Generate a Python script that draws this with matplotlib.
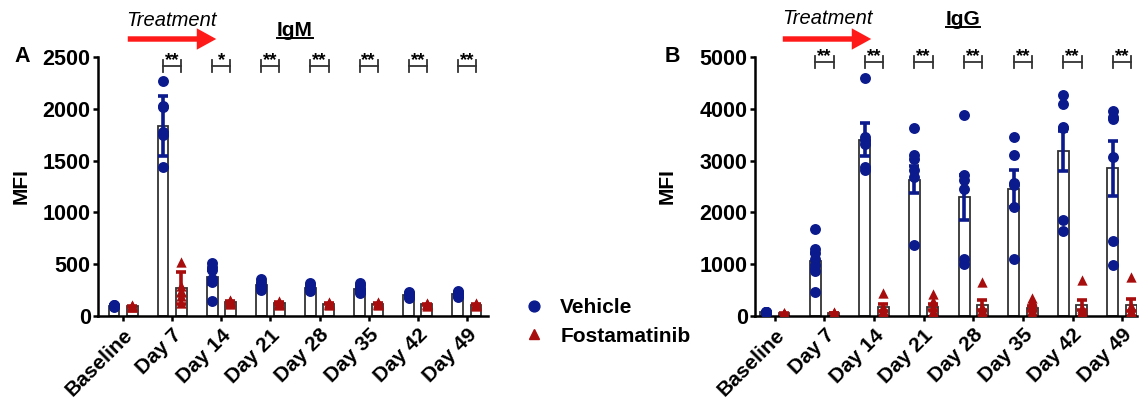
import matplotlib
matplotlib.use("Agg")
import matplotlib.pyplot as plt
from matplotlib.lines import Line2D
from matplotlib.transforms import ScaledTranslation
import numpy as np

plt.rcParams['font.family'] = ['Liberation Sans', 'DejaVu Sans']
plt.rcParams['font.weight'] = 'bold'

days = ["Baseline", "Day 7", "Day 14", "Day 21", "Day 28", "Day 35", "Day 42", "Day 49"]

# IgM (panel A)
igm_veh_mean = [100, 1830, 375, 295, 270, 265, 200, 210]
igm_veh_sem = [5, 290, 65, 18, 15, 15, 10, 10]
igm_veh_pts = [
    [95, 100, 105, 90, 110, 100],
    [2265, 2024, 2018, 1777, 1745, 1440],
    [510, 470, 440, 360, 330, 140],
    [355, 330, 300, 280, 260, 250],
    [315, 300, 270, 255, 250, 240],
    [320, 300, 270, 250, 230, 225],
    [235, 220, 200, 190, 180, 175],
    [240, 230, 215, 200, 190, 185],
]
igm_fos_mean = [95, 270, 135, 125, 120, 120, 115, 110]
igm_fos_sem = [4, 150, 8, 6, 6, 6, 5, 5]
igm_fos_pts = [
    [100, 95, 90, 105, 85, 100],
    [525, 290, 240, 190, 130, 235],
    [150, 140, 135, 130, 120, 145],
    [140, 130, 120, 115, 110, 125],
    [135, 125, 120, 115, 105, 120],
    [135, 125, 120, 115, 105, 120],
    [130, 120, 115, 110, 100, 115],
    [125, 115, 110, 105, 95, 110],
]
igm_stars = ["**", "*", "**", "**", "**", "**", "**"]

# IgG (panel B)
igg_veh_mean = [75, 1060, 3400, 2630, 2290, 2460, 3180, 2850]
igg_veh_sem = [4, 150, 320, 260, 430, 350, 390, 530]
igg_veh_pts = [
    [80, 70, 75, 65, 85, 70],
    [1670, 1300, 1210, 1110, 980, 860, 460],
    [4600, 3460, 3330, 3400, 2880, 2820],
    [3620, 3100, 3040, 2810, 2690, 1370],
    [3875, 2720, 2620, 2460, 1110, 1010],
    [3460, 3100, 2570, 2530, 2110, 1110],
    [4270, 4100, 3650, 3620, 1850, 1650],
    [3950, 3850, 3800, 3070, 1450, 990],
]
igg_fos_mean = [50, 55, 165, 170, 210, 150, 210, 212]
igg_fos_sem = [4, 6, 70, 60, 100, 50, 100, 110]
igg_fos_pts = [
    [60, 50, 45, 55, 40, 50],
    [80, 60, 50, 40, 45, 55],
    [450, 180, 120, 60, 100, 80],
    [420, 280, 180, 90, 60, 80],
    [660, 120, 60, 50, 180, 90],
    [350, 280, 210, 110, 60, 50],
    [700, 120, 80, 60, 150, 70],
    [750, 200, 100, 60, 80, 90],
]
igg_stars = ["**"] * 7

navy = "#0b1a8c"
dred = "#a80d0d"
W, H = 1147, 405


def draw_panel(ax, vm, vs, vp, fm, fs, fp, ymax, ystep, xlim, stars, brk_y, brk_h):
    x = np.arange(len(days))
    off = 0.185
    bw = 0.22
    ax.bar(x - off, vm, width=bw, color="white", edgecolor="#333333", linewidth=1.3, zorder=1)
    ax.bar(x + off, fm, width=bw, color="white", edgecolor="#333333", linewidth=1.3, zorder=1)
    for i in range(len(days)):
        ax.scatter([x[i] - off] * len(vp[i]), vp[i], s=62, color=navy, marker="o", zorder=3, linewidths=0)
        ax.scatter([x[i] + off] * len(fp[i]), fp[i], s=55, color=dred, marker="^", zorder=3, linewidths=0)
    ax.errorbar(x - off, vm, yerr=vs, fmt="none", ecolor=navy, elinewidth=2.6, capsize=3.8, capthick=2.6, zorder=4)
    ax.errorbar(x + off, fm, yerr=fs, fmt="none", ecolor=dred, elinewidth=2.6, capsize=3.8, capthick=2.6, zorder=4)

    # significance brackets
    for i, s in enumerate(stars):
        a, b = x[i + 1] - off, x[i + 1] + off
        ax.plot([a, b], [brk_y, brk_y], color="#333333", lw=1.3, clip_on=False)
        ax.plot([a, a], [brk_y - brk_h, brk_y + brk_h], color="#333333", lw=1.3, clip_on=False)
        ax.plot([b, b], [brk_y - brk_h, brk_y + brk_h], color="#333333", lw=1.3, clip_on=False)
        ax.text((a + b) / 2, brk_y - brk_h * 0.5, s, ha="center", va="bottom", fontsize=13.5, clip_on=False)

    ax.set_xlim(*xlim)
    ax.set_ylim(0, ymax)
    ax.set_yticks(np.arange(0, ymax + 1, ystep))
    ax.set_xticks(x)
    ax.set_xticklabels(days, rotation=45, ha="right", rotation_mode="anchor", fontsize=15)
    shift = ScaledTranslation(-9 / 100, -11 / 100, fig.dpi_scale_trans)
    for lab in ax.get_xticklabels():
        lab.set_transform(lab.get_transform() + shift)
    ax.tick_params(axis="y", labelsize=15.5, width=1.8, length=3.8, pad=1.5, direction="out")
    ax.tick_params(axis="x", width=1.8, length=3.8, direction="out", pad=3)
    for sp in ["top", "right"]:
        ax.spines[sp].set_visible(False)
    for sp in ["left", "bottom"]:
        ax.spines[sp].set_linewidth(1.8)
    ax.set_ylabel("MFI", fontsize=15, fontweight="bold")


fig = plt.figure(figsize=(W / 100, H / 100), dpi=100)
axA = fig.add_axes([98 / W, 1 - 316 / H, 390 / W, 259 / H])
axB = fig.add_axes([755 / W, 1 - 316 / H, 382 / W, 259 / H])

draw_panel(axA, igm_veh_mean, igm_veh_sem, igm_veh_pts, igm_fos_mean, igm_fos_sem, igm_fos_pts,
           2500, 500, (-0.51, 7.43), igm_stars, 2410, 58)
draw_panel(axB, igg_veh_mean, igg_veh_sem, igg_veh_pts, igg_fos_mean, igg_fos_sem, igg_fos_pts,
           5000, 1000, (-0.40, 7.30), igg_stars, 4900, 116)
axA.yaxis.set_label_coords(-0.172, 0.5)
axB.yaxis.set_label_coords(-0.205, 0.5)

# panel letters
fig.text(22 / W, 1 - 57 / H, "A", fontsize=15.5, fontweight="bold", ha="center", va="center")
fig.text(672 / W, 1 - 57 / H, "B", fontsize=15.5, fontweight="bold", ha="center", va="center")

# treatment arrows
for tx, ty, x0, x1 in [(171, 20, 125, 219), (827, 18, 780, 874)]:
    fig.text(tx / W, 1 - ty / H, "Treatment", fontsize=14.5, fontstyle="italic", fontweight="normal",
             ha="center", va="center")
    fig.add_artist(matplotlib.patches.FancyArrowPatch(
        (x0 / W, 1 - 39 / H), (x1 / W, 1 - 39 / H), transform=fig.transFigure,
        arrowstyle="simple,head_length=1.0,head_width=1.1,tail_width=0.28",
        mutation_scale=14, color="#ff1a1a", lw=0))

# underlined titles
titles = []
for label, cx, by in [("IgM", 295, 36), ("IgG", 963, 25)]:
    t = fig.text(cx / W, 1 - by / H, label, fontsize=15, fontweight="bold", ha="center", va="baseline")
    titles.append((t, by))
fig.canvas.draw()
for t, by in titles:
    bb = t.get_window_extent()
    yl = 1 - (by + 2) / H
    fig.add_artist(Line2D([bb.x0 / W, bb.x1 / W], [yl, yl], color="black", lw=1.4, transform=fig.transFigure))

# legend
handles = [
    Line2D([], [], marker="o", linestyle="none", color=navy, markersize=7.8, label="Vehicle"),
    Line2D([], [], marker="^", linestyle="none", color=dred, markersize=6.5, label="Fostamatinib"),
]
fig.legend(handles=handles, loc="center left", bbox_to_anchor=(505 / W, 1 - 322 / H), frameon=False,
           prop={"size": 15, "weight": "bold"}, handletextpad=0.75, labelspacing=0.45, handlelength=1.0)

fig.savefig("out.png", dpi=100)
